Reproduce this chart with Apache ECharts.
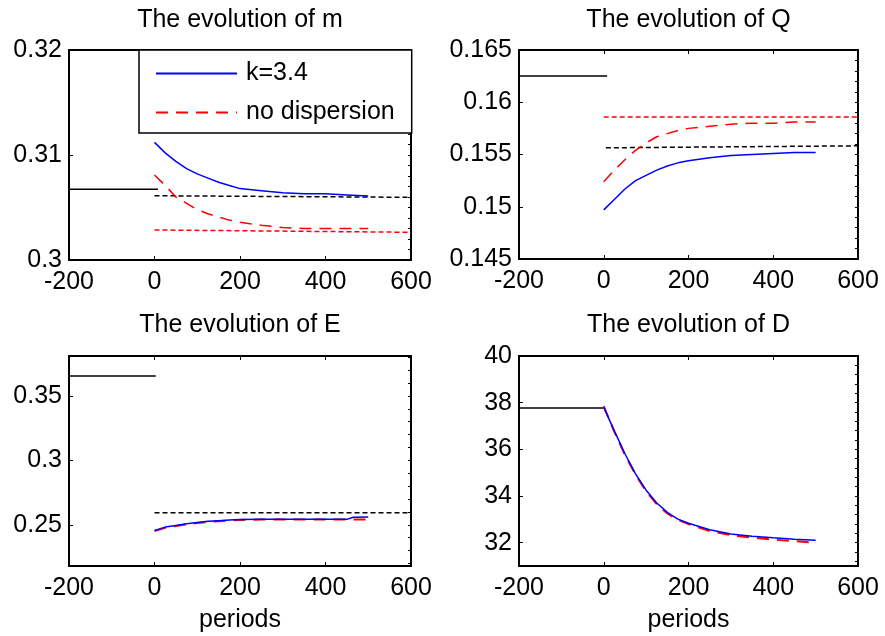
<!DOCTYPE html>
<html>
<head>
<meta charset="utf-8">
<script src="https://cdn.jsdelivr.net/npm/echarts@6/dist/echarts.min.js"></script>
<style>html,body{margin:0;padding:0;background:#fff;}#c{width:885px;height:636px;}</style>
</head>
<body>
<div id="c"></div>
<script>
// ---------- data ----------
const titles = ['The evolution of m', 'The evolution of Q', 'The evolution of E', 'The evolution of D'];
const seriesNames = ['k=3.4', 'no dispersion'];
const xTicks = [-200, 0, 200, 400, 600];
const xLabel = 'periods';

const periods = [0, 25, 50, 75, 100, 125, 150, 175, 200, 250, 300, 350, 400, 450, 500];
const ePeriods = [0, 25, 50, 75, 100, 125, 150, 175, 200, 250, 300, 350, 400, 450, 465, 500];

// m
const mK34    = [0.3112, 0.3102, 0.3094, 0.3087, 0.3082, 0.3078, 0.3074, 0.3071, 0.3068, 0.3066, 0.3064, 0.3063, 0.3063, 0.3062, 0.3061];
const mNoDisp = [0.3081, 0.3071, 0.3060, 0.3054, 0.3048, 0.3044, 0.3041, 0.3038, 0.3036, 0.3033, 0.3031, 0.3030, 0.3030, 0.3030, 0.3030];
const mPreX = [-200, 8],  mPreY = [0.30673, 0.30673];
const mSsX  = [0, 600],   mSsK34Y = [0.30612, 0.30597], mSsNoDispY = [0.30286, 0.30264];

// Q
const qK34    = [0.1497, 0.1507, 0.1517, 0.1525, 0.1530, 0.1535, 0.1539, 0.1542, 0.1544, 0.1547, 0.1549, 0.1550, 0.1551, 0.1552, 0.1552];
const qNoDisp = [0.1524, 0.1535, 0.1545, 0.1554, 0.1561, 0.1567, 0.1570, 0.1573, 0.1575, 0.1577, 0.1579, 0.1580, 0.1580, 0.1581, 0.1581];
const qPreX = [-200, 8],  qPreY = [0.16252, 0.16252];
const qSsX  = [5, 600],   qSsK34Y = [0.15564, 0.15583];
const qSsNoDispX = [0, 600], qSsNoDispY = [0.1586, 0.1586];

// E
const eK34    = [0.2456, 0.2482, 0.2495, 0.2508, 0.2518, 0.2527, 0.2532, 0.2537, 0.2541, 0.2542, 0.2542, 0.2542, 0.2542, 0.2542, 0.2559, 0.2560];
const eNoDisp = [0.2451, 0.2476, 0.2490, 0.2503, 0.2513, 0.2521, 0.2528, 0.2533, 0.2537, 0.2541, 0.2541, 0.2541, 0.2541, 0.2541, 0.2541, 0.2541];
const ePreX = [-200, 3],  ePreY = [0.3655, 0.3655];
const eSsX  = [0, 600],   eSsK34Y = [0.2593, 0.2593];

// D
const dK34    = [37.80, 36.79, 35.81, 34.95, 34.25, 33.70, 33.30, 33.01, 32.83, 32.55, 32.37, 32.28, 32.21, 32.15, 32.10];
const dNoDisp = [37.85, 36.75, 35.76, 34.92, 34.20, 33.65, 33.25, 32.98, 32.80, 32.50, 32.32, 32.22, 32.13, 32.07, 32.00];
const dPreX = [-200, 0],  dPreY = [37.77, 37.77];

// axis ranges / ticks
const yRanges = [[0.30, 0.32], [0.145, 0.165], [0.218, 0.381], [31, 40]];
const yMajor  = [[0.30, 0.31, 0.32], [0.145, 0.15, 0.155, 0.16, 0.165], [0.25, 0.30, 0.35], [32, 34, 36, 38, 40]];
const yMinorStep = [0.001, 0.001, 0.01, 0.4];

// ---------- layout ----------
const FONT = '"Liberation Sans", Arial, Helvetica, sans-serif';
const grids = [
  {left: 69,  top: 50,  width: 342, height: 210},
  {left: 519, top: 50,  width: 339, height: 209},
  {left: 69,  top: 356, width: 342, height: 210},
  {left: 519, top: 356, width: 339, height: 210}
];

function zip(xs, ys) { return xs.map((x, i) => [x, ys[i]]); }
function minorVals(r, step) {
  const out = [];
  const start = Math.ceil(r[0] / step - 1e-9);
  for (let k = start; k * step <= r[1] + 1e-9; k++) out.push(+(k * step).toFixed(6));
  return out;
}

const axisLine = {show: true, onZero: false, lineStyle: {color: '#000', width: 2}};
const xAxes = [], yAxes = [];
grids.forEach((g, i) => {
  const bottomRow = i >= 2;
  xAxes.push({
    gridIndex: i, type: 'value', position: 'bottom', min: -200, max: 600, interval: 200,
    axisLine, axisTick: {inside: true, length: 4, lineStyle: {color: '#000', width: 1}},
    axisLabel: {fontSize: 25, color: '#000', fontFamily: FONT, margin: 10},
    splitLine: {show: false},
    name: bottomRow ? xLabel : '', nameLocation: 'middle', nameGap: 42,
    nameTextStyle: {fontSize: 25, color: '#000', fontFamily: FONT}
  });
  xAxes.push({
    gridIndex: i, type: 'value', position: 'top', min: -200, max: 600, interval: 200,
    axisLine, axisTick: {inside: true, length: 4, lineStyle: {color: '#000', width: 1}},
    axisLabel: {show: false}, splitLine: {show: false}
  });
  const r = yRanges[i];
  yAxes.push({
    gridIndex: i, type: 'value', position: 'left', min: r[0], max: r[1],
    axisLine, axisTick: {inside: true, length: 4, customValues: yMajor[i], lineStyle: {color: '#000', width: 1}},
    axisLabel: {fontSize: 25, color: '#000', fontFamily: FONT, margin: 7, customValues: yMajor[i]},
    splitLine: {show: false}
  });
  yAxes.push({
    gridIndex: i, type: 'value', position: 'right', min: r[0], max: r[1],
    axisLine, axisTick: {inside: true, length: 3, customValues: minorVals(r, yMinorStep[i]), lineStyle: {color: '#000', width: 1}},
    axisLabel: {show: false}, splitLine: {show: false}
  });
});

const BLUE = '#0000ff', RED = '#ff0000', BLACK = '#000000';
function line(i, name, data, color, type, width) {
  return {
    name: name, type: 'line', xAxisIndex: 2 * i, yAxisIndex: 2 * i, data: data,
    symbol: 'none', showSymbol: false, animation: false, z: 3,
    lineStyle: {color: color, type: type, width: width || 1.5}, itemStyle: {color: color},
    emphasis: {disabled: true}
  };
}
const longDash = [12, 8];
const shortDash = [5, 3];

const series = [
  // m
  line(0, 'm before', zip(mPreX, mPreY), BLACK, 'solid', 1.5),
  line(0, 'm steady k', zip(mSsX, mSsK34Y), BLACK, shortDash, 1.5),
  line(0, 'm steady nd', zip(mSsX, mSsNoDispY), RED, shortDash, 1.5),
  line(0, seriesNames[0], zip(periods, mK34), BLUE, 'solid', 1.5),
  line(0, seriesNames[1], zip(periods, mNoDisp), RED, longDash, 1.5),
  // Q
  line(1, 'Q before', zip(qPreX, qPreY), BLACK, 'solid', 1.5),
  line(1, 'Q steady k', zip(qSsX, qSsK34Y), BLACK, shortDash, 1.5),
  line(1, 'Q steady nd', zip(qSsNoDispX, qSsNoDispY), RED, shortDash, 1.5),
  line(1, seriesNames[0], zip(periods, qK34), BLUE, 'solid', 1.5),
  line(1, seriesNames[1], zip(periods, qNoDisp), RED, longDash, 1.5),
  // E
  line(2, 'E before', zip(ePreX, ePreY), BLACK, 'solid', 1.5),
  line(2, 'E steady k', zip(eSsX, eSsK34Y), BLACK, shortDash, 1.5),
  line(2, seriesNames[1], zip(ePeriods, eNoDisp), RED, longDash, 2),
  line(2, seriesNames[0], zip(ePeriods, eK34), BLUE, 'solid', 1.5),
  // D
  line(3, 'D before', zip(dPreX, dPreY), BLACK, 'solid', 1.5),
  line(3, seriesNames[1], zip(periods, dNoDisp), RED, longDash, 2),
  line(3, seriesNames[0], zip(periods, dK34), BLUE, 'solid', 1.5)
];

const titleOpts = grids.map((g, i) => ({
  text: titles[i], left: g.left + g.width / 2, top: i < 2 ? 8 : 313, textAlign: 'center',
  padding: 0,
  textStyle: {fontSize: 25, fontWeight: 'normal', color: '#000', fontFamily: FONT}
}));

const chart = echarts.init(document.getElementById('c'), null, {renderer: 'canvas'});
chart.setOption({
  animation: false,
  backgroundColor: '#fff',
  title: titleOpts,
  grid: grids.map(g => Object.assign({containLabel: false}, g)),
  xAxis: xAxes,
  yAxis: yAxes,
  legend: {
    data: [seriesNames[0], seriesNames[1]],
    orient: 'vertical', left: 139, top: 50,
    backgroundColor: '#fff', borderColor: '#000', borderWidth: 1.5,
    padding: [11, 17, 8, 16], itemGap: 14, itemWidth: 81, itemHeight: 25,
    itemStyle: {opacity: 0},
    textStyle: {fontSize: 25, color: '#000', fontFamily: FONT, padding: [0, 0, 0, 4]},
    selectedMode: false,
    z: 10
  },
  series: series
});
</script>
</body>
</html>
